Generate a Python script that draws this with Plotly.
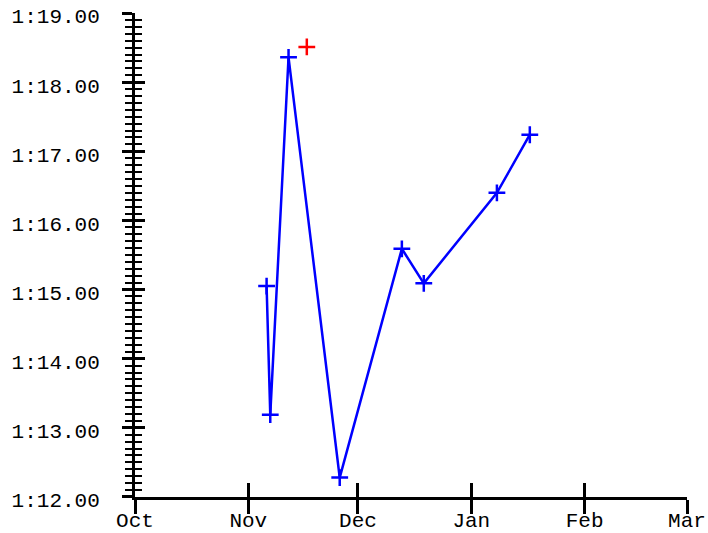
import plotly.graph_objects as go

# ---- data ----
dates = ["2014-11-06", "2014-11-07", "2014-11-12", "2014-11-26",
         "2014-12-13", "2014-12-19", "2015-01-08", "2015-01-17"]
times = ["1:15.05", "1:13.19", "1:18.36", "1:12.28",
         "1:15.59", "1:15.09", "1:16.40", "1:17.24"]
extra_dates = ["2014-11-17"]
extra_times = ["1:18.51"]
y_tick_labels = ["1:12.00", "1:13.00", "1:14.00", "1:15.00",
                 "1:16.00", "1:17.00", "1:18.00", "1:19.00"]
x_range = ["2014-10-01", "2015-03-01"]


def to_sec(t):
    m, s = t.split(":")
    return int(m) * 60 + float(s)


y_vals = [to_sec(t) for t in y_tick_labels]
y_range = [y_vals[0] - 0.001, y_vals[-1] + 0.001]

FONT = dict(family="Liberation Mono, Courier New, monospace", size=21, color="black")

fig = go.Figure()
fig.add_trace(go.Scatter(
    x=dates, y=[to_sec(t) for t in times], mode="lines+markers",
    line=dict(color="#0000ff", width=2.5),
    marker=dict(symbol="cross-thin", size=12, line=dict(color="#0000ff", width=2.5)),
    showlegend=False, cliponaxis=False,
))
fig.add_trace(go.Scatter(
    x=extra_dates, y=[to_sec(t) for t in extra_times], mode="markers",
    marker=dict(symbol="cross-thin", size=12, line=dict(color="#ff0000", width=2.5)),
    xaxis="x2", yaxis="y2", showlegend=False, cliponaxis=False,
))

common_y = dict(range=y_range, tickvals=y_vals, showgrid=False, zeroline=False,
                tickwidth=3, tickcolor="black", automargin=False)
common_x = dict(type="date", range=x_range, dtick="M1", tick0="2014-10-01",
                showgrid=False, zeroline=False, tickwidth=3, tickcolor="black",
                automargin=False)
minor_common = dict(dtick=0.1, tick0=72, ticklen=7, tickwidth=2,
                    tickcolor="black", showgrid=False)

fig.update_layout(
    width=708, height=533,
    margin=dict(l=135, r=21, t=13, b=36),
    plot_bgcolor="white", paper_bgcolor="white",
    font=FONT,
    xaxis=dict(**common_x, tickformat="%b", ticks="outside", ticklen=14,
               showline=True, linecolor="black", linewidth=3,
               tickfont=FONT, ticklabelstandoff=-12),
    xaxis2=dict(**common_x, overlaying="x", anchor="y", side="bottom",
                ticks="inside", ticklen=14, showticklabels=False, showline=False),
    yaxis=dict(**common_y, ticktext=y_tick_labels, ticks="outside", ticklen=10,
               minor=dict(**minor_common, ticks="outside"),
               showline=True, linecolor="black", linewidth=3,
               tickfont=FONT, ticklabelstandoff=18, ticklabelshift=3),
    yaxis2=dict(**common_y, overlaying="y", anchor="x", side="left",
                ticks="inside", ticklen=10, showticklabels=False, showline=False,
                minor=dict(**minor_common, ticks="inside")),
)

fig.write_html(
    "out.html",
    config={"displayModeBar": False},
    post_script="document.body.style.margin='0px';document.body.style.overflow='hidden';",
)
